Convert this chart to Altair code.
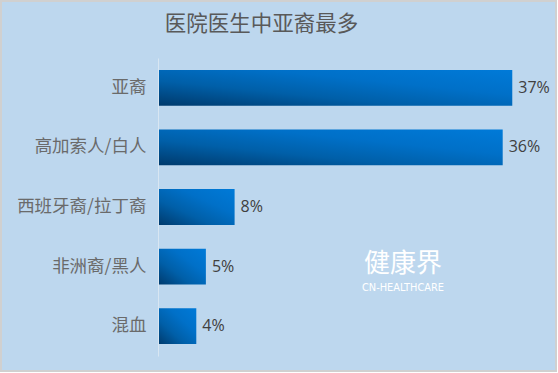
import altair as alt
import pandas as pd

categories = ["亚裔", "高加索人/白人", "西班牙裔/拉丁裔", "非洲裔/黑人", "混血"]
values = [37, 36, 8, 5, 4]
labels = ["37%", "36%", "8%", "5%", "4%"]

df = pd.DataFrame({"cat": categories, "val": values, "lab": labels})

W, H = 383, 298
PL, PT = 158, 58

grad = alt.Gradient(
    gradient="linear", x1=0, y1=1, x2=1, y2=0,
    stops=[
        alt.GradientStop(color="#003A6C", offset=0),
        alt.GradientStop(color="#005FA8", offset=0.35),
        alt.GradientStop(color="#0070C8", offset=0.65),
        alt.GradientStop(color="#007AD8", offset=1),
    ],
)

y_enc = alt.Y("cat:N", sort=categories,
              scale=alt.Scale(paddingInner=0.4, paddingOuter=0.2),
              axis=alt.Axis(title=None, ticks=False, domain=True, domainColor="#D8E6F2",
                            domainWidth=1, labelPadding=12, labelFontSize=17.5,
                            labelColor="#6A6A6A", labelFont="Noto Sans CJK SC", zindex=1))
x_enc = alt.X("val:Q", scale=alt.Scale(domain=[0, 40]), axis=None)

bg = alt.Chart(pd.DataFrame({"a": [0]})).mark_rect(
    fill="#BDD7EE", stroke="#D0D0D0", strokeWidth=2
).encode(
    x=alt.value(-PL + 1), x2=alt.value(558 - PL - 2),
    y=alt.value(-PT + 1), y2=alt.value(373 - PT - 2),
)

bars = alt.Chart(df).mark_bar(color=grad).encode(y=y_enc, x=x_enc)

text = alt.Chart(df).mark_text(
    align="left", dx=6, fontSize=16, color="#404040", font="Open Sans"
).encode(y=alt.Y("cat:N", sort=categories), x="val:Q", text="lab:N")

title = alt.Chart(pd.DataFrame({"t": ["医院医生中亚裔最多"]})).mark_text(
    fontSize=21.5, color="#595959", font="Noto Sans CJK SC", align="center", baseline="middle"
).encode(x=alt.value(261.5 - PL), y=alt.value(25 - PT), text="t:N")

wm1 = alt.Chart(pd.DataFrame({"t": ["健康界"]})).mark_text(
    fontSize=26, color="#FFFFFF", font="Noto Sans CJK SC", align="center", baseline="middle"
).encode(x=alt.value(403 - PL), y=alt.value(264 - PT), text="t:N")

wm2 = alt.Chart(pd.DataFrame({"t": ["CN-HEALTHCARE"]})).mark_text(
    fontSize=9.8, color="#FFFFFF", font="DejaVu Sans", align="center", baseline="middle"
).encode(x=alt.value(403 - PL), y=alt.value(288 - PT), text="t:N")

chart = alt.layer(bg, bars, text, title, wm1, wm2).properties(
    width=W, height=H,
    autosize=alt.AutoSizeParams(type="none"),
    padding={"left": PL, "top": PT, "right": 558 - PL - W, "bottom": 373 - PT - H},
    background="#FFFFFF",
).configure_view(stroke=None)

chart.save("out.html", embed_options={"renderer": "svg", "actions": False})
